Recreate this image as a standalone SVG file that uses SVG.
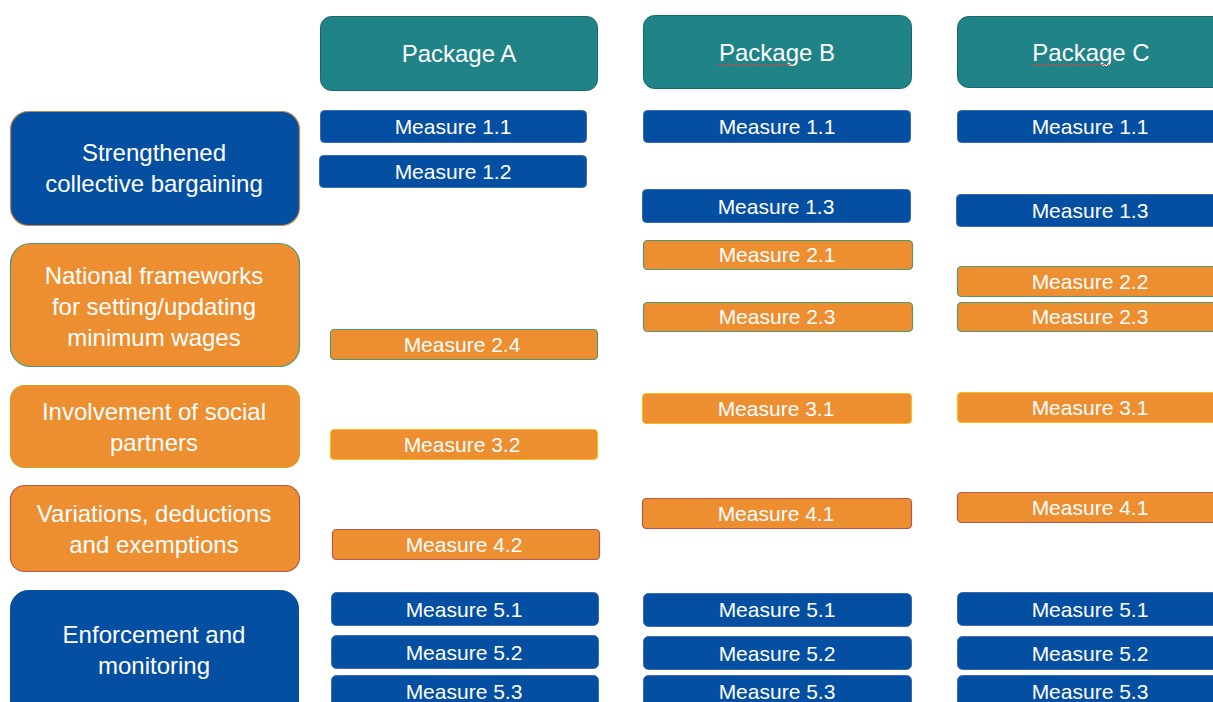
<svg xmlns="http://www.w3.org/2000/svg" width="1213" height="702" viewBox="0 0 1213 702">
<style>
text{font-family:"Liberation Sans",Arial,sans-serif;fill:#ffffff;text-anchor:middle}
.hdr rect{fill:#1f8387;stroke:#17686b;stroke-width:1}
.hdr text{font-size:24px}
.cat text{font-size:24px}
.m text{font-size:21px}
.blue{fill:#054fa3;stroke:#3a6cb0;stroke-width:1}
.org{fill:#ed8e31}
.g{stroke:#4e9a70;stroke-width:1.2}
.y{stroke:#f5bd1f;stroke-width:1.2}
.r{stroke:#b8574a;stroke-width:1.2}
.sp{fill:none;stroke:#e04040;stroke-width:0.9}
</style>
<g id="headers">
<g id="pkgA" class="hdr"><rect x="320.5" y="16.5" width="277" height="74" rx="11"/><text x="459" y="62">Package A</text></g>
<g id="pkgB" class="hdr"><rect x="643.5" y="15.5" width="268" height="73" rx="11"/><text x="777" y="61">Package B</text><path class="sp" d="M717 64 l1.5 1.5 l1.5 -1.5 l1.5 1.5 l1.5 -1.5 l1.5 1.5 l1.5 -1.5 l1.5 1.5 l1.5 -1.5 l1.5 1.5 l1.5 -1.5 l1.5 1.5 l1.5 -1.5 l1.5 1.5 l1.5 -1.5 l1.5 1.5 l1.5 -1.5 l1.5 1.5 l1.5 -1.5 l1.5 1.5 l1.5 -1.5 l1.5 1.5 l1.5 -1.5 l1.5 1.5 l1.5 -1.5 l1.5 1.5 l1.5 -1.5 l1.5 1.5 l1.5 -1.5 l1.5 1.5 l1.5 -1.5 l1.5 1.5 l1.5 -1.5 l1.5 1.5 l1.5 -1.5 l1.5 1.5 l1.5 -1.5 l1.5 1.5 l1.5 -1.5 l1.5 1.5 l1.5 -1.5 l1.5 1.5 l1.5 -1.5 l1.5 1.5 l1.5 -1.5 l1.5 1.5 l1.5 -1.5 l1.5 1.5 l1.5 -1.5 l1.5 1.5 l1.5 -1.5 l1.5 1.5"/></g>
<g id="pkgC" class="hdr"><rect x="957.5" y="16.5" width="270" height="71" rx="11"/><text x="1091" y="61">Package C</text><path class="sp" d="M1031 64 l1.5 1.5 l1.5 -1.5 l1.5 1.5 l1.5 -1.5 l1.5 1.5 l1.5 -1.5 l1.5 1.5 l1.5 -1.5 l1.5 1.5 l1.5 -1.5 l1.5 1.5 l1.5 -1.5 l1.5 1.5 l1.5 -1.5 l1.5 1.5 l1.5 -1.5 l1.5 1.5 l1.5 -1.5 l1.5 1.5 l1.5 -1.5 l1.5 1.5 l1.5 -1.5 l1.5 1.5 l1.5 -1.5 l1.5 1.5 l1.5 -1.5 l1.5 1.5 l1.5 -1.5 l1.5 1.5 l1.5 -1.5 l1.5 1.5 l1.5 -1.5 l1.5 1.5 l1.5 -1.5 l1.5 1.5 l1.5 -1.5 l1.5 1.5 l1.5 -1.5 l1.5 1.5 l1.5 -1.5 l1.5 1.5 l1.5 -1.5 l1.5 1.5 l1.5 -1.5 l1.5 1.5 l1.5 -1.5 l1.5 1.5 l1.5 -1.5 l1.5 1.5 l1.5 -1.5 l1.5 1.5 l1.5 -1.5"/></g>
</g>
<g id="categories">
<g id="cat1" class="cat"><rect x="10.5" y="111.5" width="289" height="114" rx="18" fill="#054fa3" stroke="#c08a52" stroke-width="1.2"/><text x="154" y="161">Strengthened</text><text x="154" y="192">collective bargaining</text></g>
<g id="cat2" class="cat"><rect x="10.5" y="243.5" width="289" height="123" rx="20" class="org g"/><text x="154" y="284">National frameworks</text><text x="154" y="315">for setting/updating</text><text x="154" y="346">minimum wages</text></g>
<g id="cat3" class="cat"><rect x="10.5" y="385.5" width="289" height="82" rx="14" fill="#ed8e31" stroke="#d4a020" stroke-width="1.2"/><text x="154" y="420">Involvement of social</text><text x="154" y="451">partners</text></g>
<g id="cat4" class="cat"><rect x="10.5" y="485.5" width="289" height="86" rx="14" fill="#ed8e31" stroke="#b8574a" stroke-width="1.2"/><text x="154" y="522">Variations, deductions</text><text x="154" y="553">and exemptions</text></g>
<g id="cat5" class="cat"><rect x="10.5" y="590.5" width="288" height="130" rx="18" fill="#054fa3" stroke="#054fa3"/><text x="154" y="643">Enforcement and</text><text x="154" y="674">monitoring</text></g>
</g>
<g id="measuresA" class="m">
<g id="A11"><rect x="320.5" y="110.5" width="266" height="32" rx="4" class="blue"/><text x="453" y="134">Measure 1.1</text></g>
<g id="A12"><rect x="319.5" y="155.5" width="267" height="32" rx="4" class="blue"/><text x="453" y="179">Measure 1.2</text></g>
<g id="A24"><rect x="330.5" y="329.5" width="267" height="30" rx="4" class="org g"/><text x="462" y="352">Measure 2.4</text></g>
<g id="A32"><rect x="330.5" y="429.5" width="267" height="30" rx="4" class="org y"/><text x="462" y="452">Measure 3.2</text></g>
<g id="A42"><rect x="332.5" y="529.5" width="267" height="30" rx="4" class="org r"/><text x="464" y="552">Measure 4.2</text></g>
<g id="A51"><rect x="331.5" y="592.5" width="267" height="33" rx="5" class="blue"/><text x="464" y="617">Measure 5.1</text></g>
<g id="A52"><rect x="331.5" y="635.5" width="267" height="33" rx="5" class="blue"/><text x="464" y="660">Measure 5.2</text></g>
<g id="A53"><rect x="331.5" y="675.5" width="267" height="40" rx="5" class="blue"/><text x="464" y="699">Measure 5.3</text></g>
</g>
<g id="measuresB" class="m">
<g id="B11"><rect x="643.5" y="110.5" width="267" height="32" rx="4" class="blue"/><text x="777" y="134">Measure 1.1</text></g>
<g id="B13"><rect x="642.5" y="189.5" width="268" height="33" rx="4" class="blue"/><text x="776" y="214">Measure 1.3</text></g>
<g id="B21"><rect x="643.5" y="240.5" width="269" height="29" rx="4" class="org g"/><text x="777" y="262">Measure 2.1</text></g>
<g id="B23"><rect x="643.5" y="302.5" width="269" height="29" rx="4" class="org g"/><text x="777" y="324">Measure 2.3</text></g>
<g id="B31"><rect x="642.5" y="393.5" width="269" height="30" rx="4" class="org y"/><text x="776" y="416">Measure 3.1</text></g>
<g id="B41"><rect x="642.5" y="498.5" width="269" height="30" rx="4" class="org r"/><text x="776" y="521">Measure 4.1</text></g>
<g id="B51"><rect x="643.5" y="593.5" width="268" height="33" rx="5" class="blue"/><text x="777" y="617">Measure 5.1</text></g>
<g id="B52"><rect x="643.5" y="636.5" width="268" height="33" rx="5" class="blue"/><text x="777" y="661">Measure 5.2</text></g>
<g id="B53"><rect x="643.5" y="675.5" width="268" height="40" rx="5" class="blue"/><text x="777" y="699">Measure 5.3</text></g>
</g>
<g id="measuresC" class="m">
<g id="C11"><rect x="957.5" y="110.5" width="270" height="32" rx="4" class="blue"/><text x="1090" y="134">Measure 1.1</text></g>
<g id="C13"><rect x="956.5" y="194.5" width="271" height="32" rx="4" class="blue"/><text x="1090" y="218">Measure 1.3</text></g>
<g id="C22"><rect x="957.5" y="266.5" width="270" height="30" rx="4" class="org g"/><text x="1090" y="289">Measure 2.2</text></g>
<g id="C23"><rect x="957.5" y="302.5" width="270" height="29" rx="4" class="org g"/><text x="1090" y="324">Measure 2.3</text></g>
<g id="C31"><rect x="957.5" y="392.5" width="270" height="30" rx="4" class="org y"/><text x="1090" y="415">Measure 3.1</text></g>
<g id="C41"><rect x="957.5" y="492.5" width="270" height="30" rx="4" class="org r"/><text x="1090" y="515">Measure 4.1</text></g>
<g id="C51"><rect x="957.5" y="592.5" width="270" height="33" rx="5" class="blue"/><text x="1090" y="617">Measure 5.1</text></g>
<g id="C52"><rect x="957.5" y="636.5" width="270" height="33" rx="5" class="blue"/><text x="1090" y="661">Measure 5.2</text></g>
<g id="C53"><rect x="957.5" y="675.5" width="270" height="40" rx="5" class="blue"/><text x="1090" y="699">Measure 5.3</text></g>
</g>
<g id="connectors"/>
</svg>
